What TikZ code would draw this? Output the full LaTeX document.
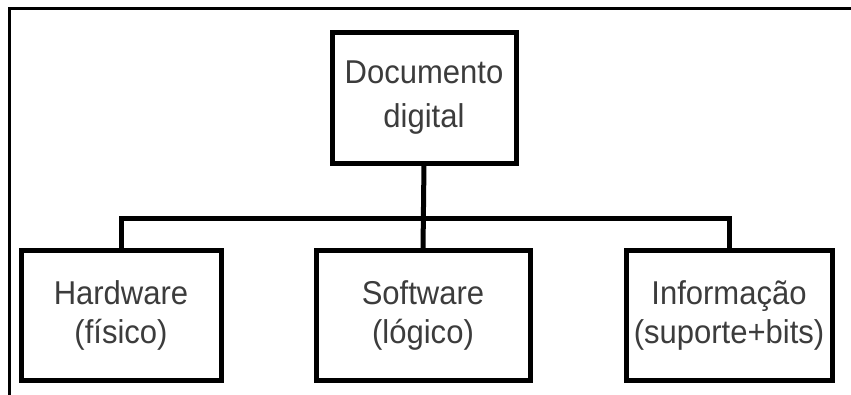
\documentclass[tikz,border=0pt]{standalone}
\usepackage{fontspec}
\setmainfont{Liberation Sans}[FakeStretch=0.94]
\definecolor{txtgray}{HTML}{3C3C3C}
\tikzset{
  box/.style={draw=black, line width=5pt, rectangle, inner sep=0pt, outer sep=0pt,
    align=center, text=txtgray},
  topfont/.style={font=\fontsize{33}{44}\selectfont},
  lowfont/.style={font=\fontsize{33}{39}\selectfont},
  conn/.style={draw=black, line width=5pt},
  frameline/.style={draw=black, line width=3pt}
}
\begin{document}
\begin{tikzpicture}[x=1pt, y=-1pt]
\useasboundingbox (0,0) rectangle (851,394);
\fill[white] (0,0) rectangle (851,394);
% outer frame (cut by the picture edges)
\draw[frameline] (860,8) -- (9.5,8) -- (9.5,400);
% boxes
\node[box, topfont, minimum width=184pt, minimum height=130.5pt] (doc) at (424,97.75) {Documento\\digital};
\node[box, lowfont, minimum width=200pt, minimum height=130pt] (hw) at (121,315) {Hardware\\(físico)};
\node[box, lowfont, minimum width=214pt, minimum height=130pt] (sw) at (423,315) {Software\\(lógico)};
\node[box, lowfont, minimum width=206pt, minimum height=130pt] (inf) at (729,315) {Informação\\(suporte+bits)};
% connectors
\coordinate (bar) at (423,218);
\draw[conn] (doc.south) -- (sw.north);
\draw[conn] (hw.north) |- (bar) -| (inf.north);
\end{tikzpicture}
\end{document}
